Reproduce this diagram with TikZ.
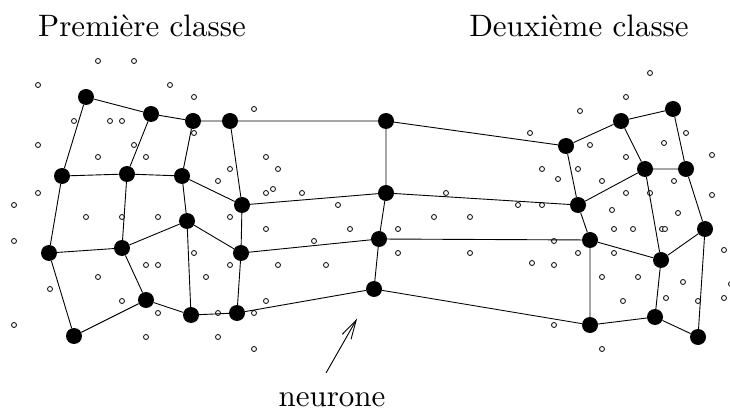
\documentclass[tikz,border=0pt]{standalone}
\usepackage{graphicx}
\usetikzlibrary{arrows.meta}
\begin{document}
\begin{tikzpicture}[x=1pt,y=-1pt,
  neuron/.style={circle,fill=black,inner sep=0pt,minimum size=16pt},
  datum/.style={circle,draw=black,fill=white,line width=0.8pt,inner sep=0pt,minimum size=5pt},
  link/.style={line width=0.9pt},
  title/.style={anchor=base,inner sep=0pt,font=\fontsize{10}{12}\selectfont}]
\useasboundingbox (0,0) rectangle (730,411);
% data points
\foreach \x/\y [count=\i] in {98/61,134/61,38/85,170/85,194/97,74/121,110/121,122/121,194/133,38/145,134/145,98/157,146/157,230/169,218/181,38/193,14/205,86/217,122/217,158/217,230/217,
14/241,194/253,146/265,158/265,230/265,98/277,206/277,50/289,122/301,158/313,218/313,14/325,146/337,218/337,
254/109,266/157,278/169,266/193,273/189,302/193,338/205,266/229,350/229,398/229,446/193,434/217,470/217,
314/241,398/253,470/253,278/265,326/265,266/301,254/313,254/349,
650/73,626/97,580/111,530/133,686/133,664/143,590/145,626/157,712/155,542/169,578/169,558/179,602/181,674/181,626/193,650/193,712/195,518/205,542/205,612/210,678/213,
614/229,633/229,662/229,665/229,554/241,724/250,578/253,614/253,532/263,554/265,602/277,638/277,683/282,731/284,666/298,623/301,698/301,724/298,554/325,602/349}
  \node[datum] (p\i) at (\x,\y) {};
% neurons, left class
\node[neuron] (a1) at (86,97) {};
\node[neuron] (a2) at (151,114) {};
\node[neuron] (a3) at (193,121) {};
\node[neuron] (a4) at (230,121) {};
\node[neuron] (b1) at (62,176) {};
\node[neuron] (b2) at (127,174) {};
\node[neuron] (b3) at (182,176) {};
\node[neuron] (b4) at (242,205) {};
\node[neuron] (c3) at (187,221) {};
\node[neuron] (c4) at (241,253) {};
\node[neuron] (d1) at (49,253) {};
\node[neuron] (d2) at (122,248) {};
\node[neuron] (e2) at (146,300) {};
\node[neuron] (e3) at (191,315) {};
\node[neuron] (e4) at (237,313) {};
\node[neuron] (f1) at (74,336) {};
% middle
\node[neuron] (m1) at (386,121) {};
\node[neuron] (m2) at (386,193) {};
\node[neuron] (m3) at (379,239) {};
\node[neuron] (m4) at (374,289) {};
% right class
\node[neuron] (ra1) at (566,146) {};
\node[neuron] (ra2) at (621,121) {};
\node[neuron] (ra3) at (673,109) {};
\node[neuron] (rb1) at (578,205) {};
\node[neuron] (rb2) at (645,169) {};
\node[neuron] (rb3) at (686,169) {};
\node[neuron] (rc1) at (590,240) {};
\node[neuron] (rc2) at (661,260) {};
\node[neuron] (rc3) at (705,229) {};
\node[neuron] (rd1) at (590,325) {};
\node[neuron] (rd2) at (655,317) {};
\node[neuron] (rd3) at (698,337) {};
% links
\draw[link] (a1) -- (a2) -- (a3) -- (a4) -- (m1) -- (ra1) -- (ra2) -- (ra3);
\draw[link] (b1) -- (b2) -- (b3) -- (b4) -- (m2) -- (rb1) -- (rb2) -- (rb3);
\draw[link] (d2) -- (c3) -- (c4) -- (m3) -- (rc1) -- (rc2) -- (rc3);
\draw[link] (d1) -- (d2);
\draw[link] (f1) -- (e2) -- (e3) -- (e4) -- (m4) -- (rd1) -- (rd2) -- (rd3);
\draw[link] (a1) -- (b1) -- (d1) -- (f1);
\draw[link] (a2) -- (b2) -- (d2) -- (e2);
\draw[link] (a3) -- (b3) -- (c3) -- (e3);
\draw[link] (a4) -- (b4) -- (c4) -- (e4);
\draw[link] (m1) -- (m2) -- (m3) -- (m4);
\draw[link] (ra1) -- (rb1) -- (rc1) -- (rd1);
\draw[link] (ra2) -- (rb2) -- (rc2) -- (rd2);
\draw[link] (ra3) -- (rb3) -- (rc3) -- (rd3);
% titles
\node[title] (t1) at (142,36.5) {\scalebox{3.1}{Première classe}};
\node[title] (t2) at (579,36.5) {\scalebox{3.1}{Deuxième classe}};
\node[title] (lbl) at (332,406) {\scalebox{3.1}{neurone}};
% arrow
\coordinate (tail) at (326,373);
\draw[line width=0.9pt,-{Straight Barb[length=19pt,width=10pt,line width=0.9pt]},shorten >=26pt] (tail) -- (m4);
\end{tikzpicture}
\end{document}
